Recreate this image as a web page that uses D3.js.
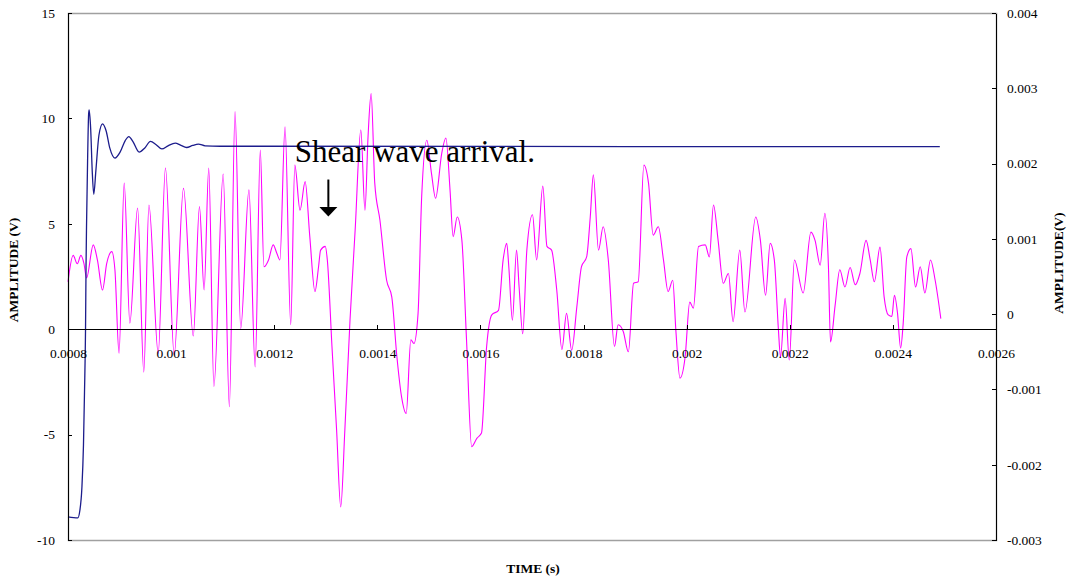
<!DOCTYPE html>
<html lang="en">
<head>
    <meta charset="utf-8">
    <title>Shear wave arrival</title>
    <style>
        body {
            margin: 0;
            background-color: white;
        }

        svg {
            display: block;
            font-family: "Liberation Serif", "Times New Roman", serif;
        }

        .axis path, .axis line {
            fill: none;
            stroke: black;
            shape-rendering: crispEdges;
        }

        .axis text {
            fill: black;
            font-size: 13.5px;
            font-family: "Liberation Serif", "Times New Roman", serif;
        }

        .title {
            font-size: 13.5px;
            font-weight: bold;
        }
    </style>
</head>
<body>
<div id="chart-container"></div>
<script src="https://d3js.org/d3.v7.min.js"></script>
<script>
    // tick values and labels
    var xTicks = [0.0008, 0.001, 0.0012, 0.0014, 0.0016, 0.0018, 0.002, 0.0022, 0.0024, 0.0026];
    var xTickLabels = ["0.0008", "0.001", "0.0012", "0.0014", "0.0016", "0.0018", "0.002", "0.0022", "0.0024", "0.0026"];
    var leftTicks = [-10, -5, 0, 5, 10, 15];
    var leftTickLabels = ["-10", "-5", "0", "5", "10", "15"];
    var rightTicks = [-0.003, -0.002, -0.001, 0, 0.001, 0.002, 0.003, 0.004];
    var rightTickLabels = ["-0.003", "-0.002", "-0.001", "0", "0.001", "0.002", "0.003", "0.004"];

    // [time (s), amplitude (V)] - trigger signal, left axis
    var blueTrace = [
        [0.000800, -8.9], [0.000819, -8.95], [0.000823, -8.6], [0.000827, -7.5], [0.000830, -5.5],
        [0.000832, -3.0], [0.000834, 0.0], [0.000835, 3.0], [0.000836, 5.0], [0.000838, 8.0],
        [0.000840, 10.2], [0.000841, 10.4], [0.000844, 9.5], [0.000847, 7.5], [0.000850, 6.4],
        [0.000854, 7.5], [0.000860, 9.2], [0.000867, 9.74], [0.000874, 9.4], [0.000881, 8.6],
        [0.000891, 8.12], [0.000901, 8.4], [0.000911, 8.95], [0.000918, 9.14], [0.000926, 8.9],
        [0.000938, 8.4], [0.000949, 8.6], [0.000960, 8.91], [0.000971, 8.75], [0.000982, 8.55],
        [0.000994, 8.7], [0.001008, 8.83], [0.001019, 8.72], [0.001030, 8.62], [0.001042, 8.72],
        [0.001053, 8.78], [0.001066, 8.7], [0.001095, 8.68], [0.002491, 8.66]
    ];

    // [time (s), amplitude (V)] - receiver signal, right axis
    var magentaTrace = [
        [0.000800, 0.00043], [0.000810, 0.00078], [0.000818, 0.00067], [0.000825, 0.00078], [0.000831, 0.00067],
        [0.000836, 0.00048], [0.000849, 0.00092], [0.000857, 0.00072], [0.000867, 0.00032], [0.000875, 0.00067],
        [0.000885, 0.00083], [0.000891, 0.00059], [0.000899, -0.00052], [0.000909, 0.00174], [0.000920, -0.00012],
        [0.000935, 0.00141], [0.000947, -0.00077], [0.000957, 0.00145], [0.000975, -0.00052], [0.000989, 0.00194],
        [0.001006, -0.00054], [0.001024, 0.00167], [0.001043, -0.00029], [0.001055, 0.00143], [0.001064, 0.00032],
        [0.001073, 0.00194], [0.001083, -0.00096], [0.001101, 0.00186], [0.001113, -0.00123], [0.001124, 0.00269],
        [0.001135, -0.00019], [0.001151, 0.00165], [0.001163, -0.00070], [0.001173, 0.00218], [0.001180, 0.00063],
        [0.001189, 0.00072], [0.001198, 0.00092], [0.001205, 0.00081], [0.001211, 0.00072], [0.001221, 0.00249],
        [0.001232, -0.00014], [0.001240, 0.00198], [0.001250, 0.00138], [0.001260, 0.00176], [0.001269, 0.00103],
        [0.001279, 0.00030], [0.001286, 0.00063], [0.001290, 0.00085], [0.001299, 0.00090], [0.001303, 0.00072],
        [0.001312, -0.00043], [0.001321, -0.00154], [0.001329, -0.00256], [0.001337, -0.00154], [0.001347, -0.00008],
        [0.001357, 0.00112], [0.001368, 0.00245], [0.001376, 0.00138], [0.001382, 0.00236], [0.001388, 0.00293],
        [0.001395, 0.00174], [0.001405, 0.00125], [0.001418, 0.00045], [0.001428, 0.00023], [0.001438, -0.00057],
        [0.001447, -0.00110], [0.001456, -0.00132], [0.001465, -0.00034], [0.001471, -0.00039], [0.001479, 0.00001],
        [0.001486, 0.00156], [0.001496, 0.00231], [0.001505, 0.00187], [0.001513, 0.00154], [0.001525, 0.00214],
        [0.001533, 0.00234], [0.001541, 0.00165], [0.001547, 0.00103], [0.001555, 0.00129], [0.001564, 0.00098],
        [0.001573, -0.00034], [0.001583, -0.00176], [0.001593, -0.00165], [0.001602, -0.00158], [0.001612, -0.00043],
        [0.001622, -0.00001], [0.001635, 0.00005], [0.001644, 0.00072], [0.001651, 0.00094], [0.001655, 0.00063],
        [0.001662, -0.00008], [0.001670, 0.00085], [0.001675, 0.00036], [0.001682, -0.00026], [0.001690, 0.00085],
        [0.001701, 0.00132], [0.001709, 0.00072], [0.001721, 0.00170], [0.001729, 0.00090], [0.001738, 0.00085],
        [0.001748, 0.00032], [0.001758, -0.00047], [0.001767, 0.00001], [0.001777, -0.00048], [0.001787, 0.00010],
        [0.001796, 0.00063], [0.001806, 0.00076], [0.001813, 0.00129], [0.001819, 0.00185], [0.001829, 0.00085],
        [0.001838, 0.00116], [0.001848, 0.00072], [0.001860, -0.00043], [0.001867, -0.00014], [0.001877, -0.00023],
        [0.001887, -0.00050], [0.001897, 0.00041], [0.001906, 0.00043], [0.001917, 0.00198], [0.001926, 0.00174],
        [0.001935, 0.00105], [0.001945, 0.00116], [0.001955, 0.00072], [0.001964, 0.00030], [0.001973, 0.00045],
        [0.001979, -0.00021], [0.001987, -0.00085], [0.001997, -0.00057], [0.002006, 0.00016], [0.002013, 0.00008],
        [0.002023, 0.00090], [0.002036, 0.00092], [0.002044, 0.00076], [0.002052, 0.00145], [0.002061, 0.00098],
        [0.002071, 0.00041], [0.002081, 0.00054], [0.002090, -0.00010], [0.002103, 0.00085], [0.002113, 0.00003],
        [0.002134, 0.00129], [0.002143, 0.00098], [0.002153, 0.00025], [0.002162, 0.00094], [0.002170, 0.00072],
        [0.002178, -0.00021], [0.002182, -0.00057], [0.002191, 0.00021], [0.002199, -0.00061], [0.002209, 0.00072],
        [0.002226, 0.00028], [0.002241, 0.00109], [0.002249, 0.00098], [0.002259, 0.00065], [0.002268, 0.00134],
        [0.002275, 0.00063], [0.002279, -0.00037], [0.002288, 0.00012], [0.002297, 0.00059], [0.002307, 0.00036],
        [0.002317, 0.00062], [0.002327, 0.00039], [0.002336, 0.00054], [0.002348, 0.00098], [0.002356, 0.00072],
        [0.002364, 0.00043], [0.002375, 0.00089], [0.002383, 0.00023], [0.002391, -0.00001], [0.002398, -0.00003],
        [0.002403, 0.00025], [0.002409, 0.00001], [0.002415, -0.00045], [0.002420, -0.00012], [0.002427, 0.00076],
        [0.002435, 0.00087], [0.002444, 0.00036], [0.002453, 0.00063], [0.002462, 0.00028], [0.002473, 0.00072],
        [0.002482, 0.00045], [0.002493, -0.00006]
    ];

    var width = 1071, height = 582;
    var plot = { left: 68, right: 996, top: 13, bottom: 540 };

    var x = d3.scaleLinear().domain([0.0008, 0.0026]).range([plot.left, plot.right]);
    var yL = d3.scaleLinear().domain([-10, 15]).range([plot.bottom, plot.top]);
    var yR = d3.scaleLinear().domain([-0.003, 0.004]).range([plot.bottom, plot.top]);

    var svg = d3.select("#chart-container")
        .append("svg")
        .attr("width", width)
        .attr("height", height);

    // plot area frame
    svg.append("rect")
        .attr("x", plot.left + 0.5)
        .attr("y", plot.top + 0.5)
        .attr("width", plot.right - plot.left)
        .attr("height", plot.bottom - plot.top)
        .attr("fill", "none")
        .attr("stroke", "#a0a0a0")
        .attr("stroke-width", 1.5);

    // series (smoothed through the traced turning points)
    var lineL = d3.line().curve(d3.curveMonotoneX)
        .x(function(d) { return x(d[0]); }).y(function(d) { return yL(d[1]); });
    var lineR = d3.line().curve(d3.curveMonotoneX)
        .x(function(d) { return x(d[0]); }).y(function(d) { return yR(d[1]); });

    svg.append("path")
        .datum(magentaTrace)
        .attr("d", lineR)
        .attr("fill", "none")
        .attr("stroke", "#ff00ff")
        .attr("stroke-width", 1.1);

    svg.append("path")
        .datum(blueTrace)
        .attr("d", lineL)
        .attr("fill", "none")
        .attr("stroke", "#1c1c8c")
        .attr("stroke-width", 1.3);

    // axes
    svg.append("g")
        .attr("class", "axis")
        .attr("transform", "translate(" + plot.left + ",0)")
        .call(d3.axisLeft(yL).tickValues(leftTicks)
            .tickFormat(function(d, i) { return leftTickLabels[i]; })
            .tickSizeInner(-4).tickSizeOuter(0).tickPadding(13));

    svg.append("g")
        .attr("class", "axis")
        .attr("transform", "translate(" + plot.right + ",0)")
        .call(d3.axisRight(yR).tickValues(rightTicks)
            .tickFormat(function(d, i) { return rightTickLabels[i]; })
            .tickSizeInner(-4).tickSizeOuter(0).tickPadding(11));

    svg.append("g")
        .attr("class", "axis")
        .attr("transform", "translate(0," + yL(0) + ")")
        .call(d3.axisBottom(x).tickValues(xTicks)
            .tickFormat(function(d, i) { return xTickLabels[i]; })
            .tickSizeInner(-4).tickSizeOuter(0).tickPadding(19));

    // axis titles
    svg.append("text")
        .attr("class", "title")
        .attr("transform", "translate(18,270) rotate(-90)")
        .attr("text-anchor", "middle")
        .text("AMPLITUDE (V)");

    svg.append("text")
        .attr("class", "title")
        .attr("transform", "translate(1063,263) rotate(-90)")
        .attr("text-anchor", "middle")
        .text("AMPLITUDE(V)");

    svg.append("text")
        .attr("class", "title")
        .attr("x", 533)
        .attr("y", 573)
        .attr("text-anchor", "middle")
        .text("TIME (s)");

    // annotation
    svg.append("text")
        .attr("x", x(0.00124))
        .attr("y", yL(7.93))
        .style("font-size", "31px")
        .text("Shear wave arrival.");

    var ax = x(0.001305);
    svg.append("line")
        .attr("x1", ax).attr("x2", ax)
        .attr("y1", yL(7.1)).attr("y2", yL(5.8))
        .attr("stroke", "black")
        .attr("stroke-width", 2);

    svg.append("path")
        .attr("d", "M" + (ax - 9) + "," + yL(5.8) + "L" + (ax + 9) + "," + yL(5.8) + "L" + ax + "," + yL(5.35) + "Z")
        .attr("fill", "black");
</script>
</body>
</html>
